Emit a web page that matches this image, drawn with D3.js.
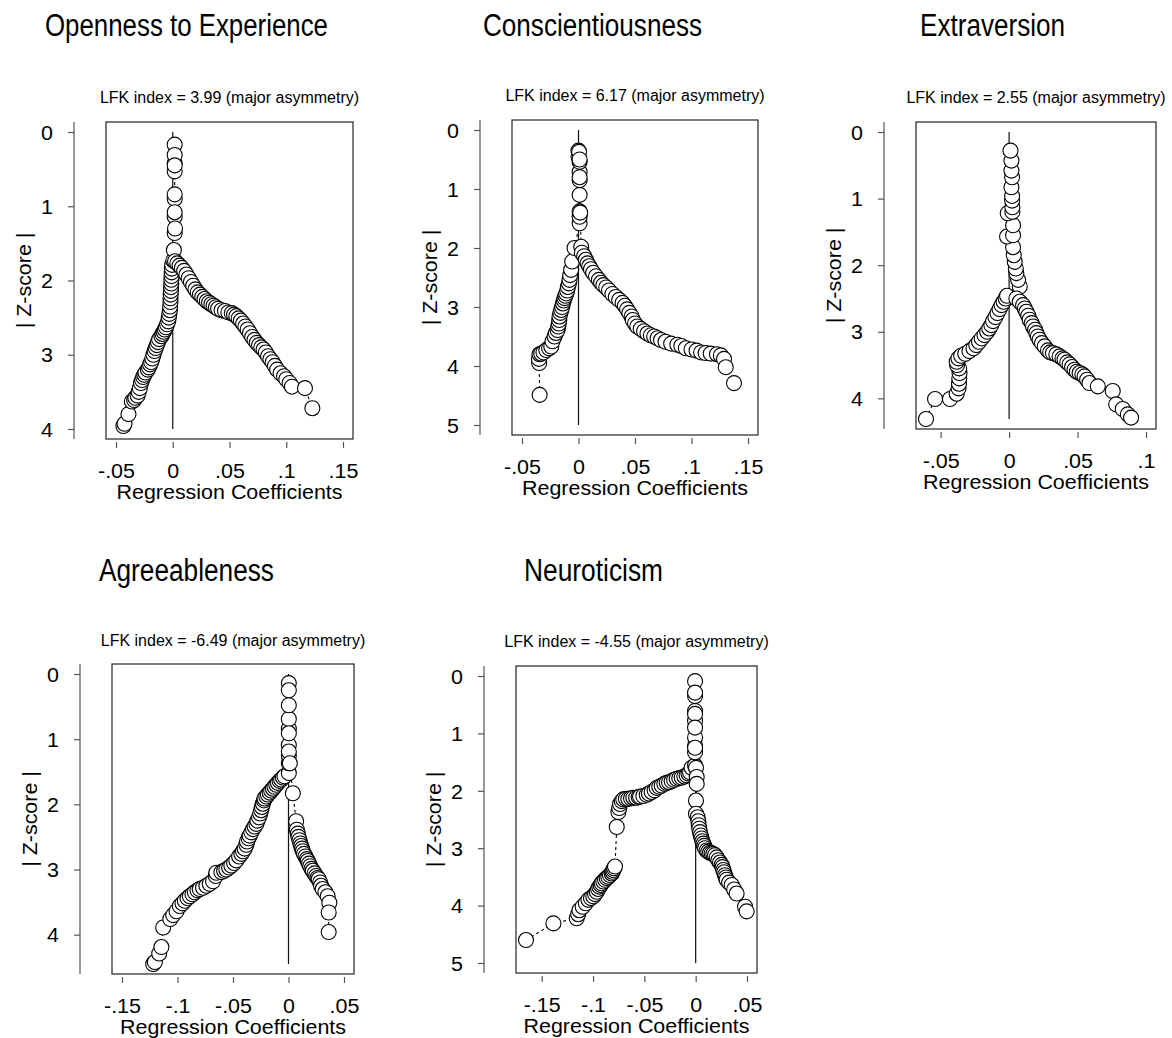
<!DOCTYPE html>
<html>
<head>
<meta charset="utf-8">
<script src="https://cdnjs.cloudflare.com/ajax/libs/d3/7.8.5/d3.min.js"></script>
<style>
body { margin: 0; background: #fff; }
svg text { font-family: "Liberation Sans", Arial, Helvetica, sans-serif; fill: #000; }
</style>
</head>
<body>
<div id="chart-area"></div>
<script>
// Doi plots, one per trait: [regression coefficient, |Z-score|], in path order
var titles = ["Openness to Experience", "Conscientiousness", "Extraversion", "Agreeableness", "Neuroticism"];
var lfkIndex = [3.99, 6.17, 2.55, -6.49, -4.55];
var lfkNote = "major asymmetry";

var xTickValues = [
    [-0.05, 0, 0.05, 0.1, 0.15],
    [-0.05, 0, 0.05, 0.1, 0.15],
    [-0.05, 0, 0.05, 0.1],
    [-0.15, -0.1, -0.05, 0, 0.05],
    [-0.15, -0.1, -0.05, 0, 0.05]
];
var yTickValues = [
    [0, 1, 2, 3, 4],
    [0, 1, 2, 3, 4, 5],
    [0, 1, 2, 3, 4],
    [0, 1, 2, 3, 4],
    [0, 1, 2, 3, 4, 5]
];

var opennessPts = [
    [-0.0435,3.96],[-0.0425,3.93],[-0.039,3.8],[-0.036,3.63],[-0.034,3.61],[-0.033,3.58],[-0.031,3.55],[-0.030,3.5],
    [-0.029,3.45],[-0.028,3.38],[-0.027,3.34],[-0.026,3.3],[-0.025,3.27],[-0.024,3.24],[-0.022,3.2],[-0.021,3.17],
    [-0.020,3.13],[-0.019,3.1],[-0.018,3.05],[-0.017,3.0],[-0.016,2.95],[-0.015,2.91],[-0.014,2.87],[-0.013,2.83],
    [-0.012,2.79],[-0.010,2.75],[-0.009,2.72],[-0.008,2.69],[-0.007,2.66],[-0.006,2.63],[-0.005,2.59],[-0.004,2.55],
    [-0.0035,2.5],[-0.003,2.45],[-0.0025,2.4],[-0.0023,2.35],[-0.002,2.29],[-0.002,2.24],[-0.0018,2.19],[-0.0016,2.14],
    [-0.0015,2.09],[-0.0013,2.04],[-0.0012,1.99],[-0.001,1.94],[-0.001,1.89],[-0.0008,1.84],[-0.0005,1.79],[0.0005,1.73],
    [0.001,1.59],[0.0017,1.36],[0.0017,1.14],[0.0017,0.9],[0.0017,0.53],[0.0017,0.42],[0.0017,0.17],[0.0017,0.31],
    [0.0017,0.45],[0.0017,0.84],[0.0017,1.08],[0.002,1.3],
    [0.002,1.74],[0.004,1.77],[0.006,1.8],[0.008,1.83],[0.010,1.87],[0.012,1.92],[0.014,1.97],[0.016,2.02],
    [0.018,2.07],[0.020,2.12],[0.022,2.16],[0.024,2.19],[0.026,2.22],[0.028,2.25],[0.030,2.28],[0.032,2.3],
    [0.034,2.32],[0.036,2.34],[0.038,2.36],[0.040,2.38],[0.043,2.4],[0.046,2.41],[0.049,2.43],[0.052,2.44],
    [0.054,2.46],[0.056,2.48],[0.058,2.51],[0.060,2.54],[0.062,2.58],[0.064,2.62],[0.066,2.66],[0.068,2.71],
    [0.070,2.76],[0.072,2.8],[0.074,2.84],[0.076,2.87],[0.078,2.9],[0.080,2.93],[0.082,2.97],[0.084,3.02],
    [0.086,3.06],[0.088,3.1],[0.090,3.15],[0.092,3.2],[0.095,3.25],[0.098,3.29],[0.100,3.33],[0.103,3.38],
    [0.105,3.43],[0.1165,3.45],[0.123,3.72]
];

var conscientiousnessPts = [
    [-0.0344,4.49],[-0.0348,3.95],[-0.035,3.88],[-0.0345,3.8],[-0.033,3.79],[-0.031,3.77],[-0.0285,3.73],[-0.026,3.7],
    [-0.0241,3.67],[-0.023,3.58],[-0.0212,3.5],[-0.020,3.44],[-0.0185,3.39],[-0.018,3.33],[-0.0174,3.28],[-0.017,3.22],
    [-0.0168,3.16],[-0.016,3.1],[-0.0153,3.05],[-0.0145,3.0],[-0.0138,2.94],[-0.013,2.89],[-0.0124,2.85],[-0.0116,2.81],
    [-0.0109,2.77],[-0.010,2.72],[-0.0094,2.66],[-0.0085,2.6],[-0.0079,2.54],[-0.0074,2.46],[-0.0065,2.37],[-0.0056,2.23],
    [-0.0035,2.0],
    [0.001,1.58],[0.001,1.47],[0.001,1.38],[0.001,1.1],[0.001,0.85],[0.001,0.71],[0.001,0.54],[0.0,0.45],
    [0.0,0.35],[0.0005,0.37],[0.001,0.5],[0.001,0.8],[0.0015,1.4],[0.0024,1.98],
    [0.003,2.08],[0.005,2.14],[0.0065,2.2],[0.008,2.26],[0.0095,2.31],[0.011,2.36],[0.013,2.42],[0.0155,2.48],
    [0.018,2.54],[0.020,2.59],[0.022,2.63],[0.0245,2.67],[0.027,2.72],[0.030,2.78],[0.033,2.83],[0.036,2.88],
    [0.039,2.93],[0.041,2.98],[0.043,3.04],[0.045,3.1],[0.047,3.16],[0.048,3.22],[0.050,3.28],[0.052,3.33],
    [0.055,3.37],[0.058,3.41],[0.061,3.45],[0.064,3.48],[0.067,3.5],[0.070,3.53],[0.073,3.56],[0.077,3.59],
    [0.082,3.62],[0.0875,3.64],[0.091,3.66],[0.095,3.7],[0.100,3.72],[0.1045,3.74],[0.1085,3.77],[0.1125,3.78],
    [0.117,3.79],[0.1225,3.8],[0.126,3.82],[0.1288,3.88],[0.1303,4.02],[0.1376,4.29]
];

var extraversionPts = [
    [-0.0607,4.31],[-0.0541,4.01],[-0.0432,4.01],[-0.0383,3.93],[-0.0369,3.85],[-0.0366,3.78],[-0.0364,3.7],[-0.0362,3.62],
    [-0.0365,3.55],[-0.038,3.5],[-0.0383,3.45],[-0.037,3.4],[-0.035,3.36],[-0.032,3.33],[-0.029,3.29],[-0.026,3.25],
    [-0.024,3.2],[-0.022,3.15],[-0.020,3.1],[-0.018,3.05],[-0.016,3.0],[-0.0145,2.95],[-0.013,2.9],[-0.0117,2.84],
    [-0.010,2.78],[-0.0085,2.72],[-0.007,2.66],[-0.0055,2.6],[-0.004,2.55],[-0.0025,2.5],[-0.0015,2.46],
    [0.0078,2.32],[0.0066,2.22],[0.0053,2.12],[0.0049,2.05],[0.0041,1.95],[0.0034,1.85],[0.0029,1.73],[-0.0015,1.57],
    [0.0029,1.55],[0.0029,1.4],[-0.001,1.22],[0.0024,1.2],[0.0024,1.13],[0.0022,1.03],[0.0022,0.96],[0.0017,0.83],
    [0.0022,0.68],[0.0017,0.58],[0.0017,0.43],[0.001,0.28],
    [0.0053,2.5],[0.0078,2.55],[0.0102,2.6],[0.0115,2.65],[0.0126,2.7],[0.014,2.76],[0.015,2.82],[0.0165,2.87],
    [0.0175,2.92],[0.019,2.97],[0.0199,3.02],[0.021,3.07],[0.0223,3.12],[0.024,3.17],[0.026,3.22],[0.0284,3.28],
    [0.030,3.31],[0.032,3.32],[0.0345,3.34],[0.0369,3.37],[0.039,3.4],[0.0405,3.42],[0.0425,3.46],[0.0442,3.49],
    [0.046,3.53],[0.0478,3.57],[0.0495,3.6],[0.0515,3.62],[0.0535,3.64],[0.0551,3.67],[0.057,3.72],[0.0587,3.77],
    [0.0648,3.82],[0.0757,3.89],[0.0782,4.09],[0.083,4.16],[0.0867,4.24],[0.0891,4.29]
];

var agreeablenessPts = [
    [-0.1219,4.45],[-0.1204,4.42],[-0.1165,4.29],[-0.1145,4.19],[-0.1129,3.89],[-0.1065,3.76],[-0.1039,3.7],[-0.1009,3.64],
    [-0.0979,3.56],[-0.0955,3.52],[-0.0934,3.48],[-0.091,3.44],[-0.0889,3.41],[-0.0865,3.38],[-0.0844,3.35],[-0.082,3.32],
    [-0.080,3.3],[-0.077,3.28],[-0.074,3.25],[-0.071,3.22],[-0.068,3.18],[-0.0655,3.1],[-0.065,3.05],[-0.0605,3.04],
    [-0.058,3.02],[-0.056,3.0],[-0.0535,2.97],[-0.0515,2.94],[-0.049,2.9],[-0.047,2.86],[-0.0445,2.8],[-0.0425,2.76],
    [-0.041,2.72],[-0.0395,2.68],[-0.038,2.62],[-0.0374,2.57],[-0.036,2.52],[-0.035,2.48],[-0.0335,2.43],[-0.032,2.38],
    [-0.0305,2.34],[-0.029,2.3],[-0.028,2.25],[-0.0266,2.2],[-0.0255,2.14],[-0.0246,2.09],[-0.024,2.04],[-0.0231,1.99],
    [-0.0222,1.94],[-0.0216,1.91],[-0.020,1.88],[-0.0186,1.85],[-0.017,1.82],[-0.0156,1.79],[-0.014,1.76],[-0.0126,1.73],
    [-0.011,1.7],[-0.0096,1.67],[-0.008,1.64],[-0.0066,1.62],[-0.005,1.59],[-0.0036,1.57],
    [0.0003,1.52],[0.0003,1.37],[0.0003,1.25],[0.0003,1.09],[0.0003,0.84],[0.0003,0.69],[0.0003,0.48],[0.0003,0.14],
    [0.0003,0.25],[0.0003,0.91],[0.0003,1.19],[0.0012,1.37],[0.0039,1.83],
    [0.0069,2.26],[0.0075,2.39],[0.0084,2.45],[0.009,2.5],[0.0099,2.55],[0.0107,2.6],[0.0114,2.64],[0.0122,2.68],
    [0.0129,2.72],[0.014,2.76],[0.0153,2.8],[0.0165,2.84],[0.0174,2.87],[0.0185,2.91],[0.0195,2.95],[0.0207,2.99],
    [0.0219,3.02],[0.0235,3.06],[0.0249,3.1],[0.0262,3.13],[0.0272,3.15],[0.0285,3.2],[0.0293,3.25],[0.0308,3.3],
    [0.0332,3.35],[0.0353,3.41],[0.0368,3.51],[0.0362,3.66],[0.0362,3.96]
];

var neuroticismPts = [
    [-0.1653,4.6],[-0.1386,4.31],[-0.1159,4.22],[-0.1145,4.15],[-0.1133,4.08],[-0.1101,4.02],[-0.107,3.96],[-0.1045,3.9],
    [-0.102,3.87],[-0.0997,3.84],[-0.098,3.8],[-0.0964,3.76],[-0.095,3.71],[-0.0938,3.67],[-0.0925,3.64],[-0.0916,3.61],
    [-0.090,3.58],[-0.0883,3.55],[-0.0867,3.52],[-0.0851,3.5],[-0.0835,3.47],[-0.0818,3.44],[-0.081,3.41],[-0.0802,3.38],
    [-0.0795,3.35],[-0.0786,3.32],[-0.0769,2.63],[-0.0753,2.37],[-0.0745,2.3],[-0.0737,2.23],[-0.072,2.18],[-0.0705,2.15],
    [-0.068,2.14],[-0.0656,2.14],[-0.063,2.13],[-0.0607,2.12],[-0.058,2.12],[-0.0555,2.11],[-0.0542,2.1],[-0.051,2.09],
    [-0.0477,2.07],[-0.0455,2.05],[-0.0429,2.02],[-0.040,1.99],[-0.038,1.95],[-0.0355,1.93],[-0.0331,1.91],[-0.0305,1.88],
    [-0.0282,1.86],[-0.026,1.85],[-0.0234,1.83],[-0.021,1.81],[-0.0185,1.79],[-0.016,1.78],[-0.0136,1.77],[-0.011,1.75],
    [-0.0088,1.73],[-0.007,1.7],[-0.0055,1.68],[-0.004,1.6],
    [-0.0006,1.56],[-0.0006,1.33],[-0.0006,1.21],[-0.0006,1.07],[-0.0006,0.78],[-0.0006,0.61],[-0.0006,0.35],[-0.0006,0.09],
    [-0.0006,0.29],[-0.0006,0.66],[-0.0006,0.9],[-0.0006,1.25],[0.0003,1.6],[0.001,1.76],[0.001,1.88],[0.0003,2.17],
    [0.0003,2.4],[0.0019,2.46],[0.0026,2.53],[0.003,2.6],[0.0035,2.66],[0.0042,2.72],[0.005,2.78],[0.0058,2.83],
    [0.0066,2.88],[0.0075,2.92],[0.0083,2.96],[0.0091,3.0],[0.0107,3.04],[0.0123,3.06],[0.014,3.08],[0.0156,3.09],
    [0.0172,3.1],[0.0188,3.12],[0.0205,3.16],[0.0221,3.21],[0.0237,3.25],[0.0253,3.29],[0.0261,3.33],[0.0269,3.38],
    [0.0277,3.42],[0.0286,3.47],[0.0294,3.51],[0.0302,3.55],[0.0326,3.6],[0.0351,3.64],[0.0375,3.72],[0.0399,3.79],
    [0.0481,4.02],[0.0497,4.1]
];

var series = [opennessPts, conscientiousnessPts, extraversionPts, agreeablenessPts, neuroticismPts];

// layout of each panel (plot box + title)
var panels = [
    { l:106, t:122, r:353, b:439, titleX:45,  titleY:36,  titleW:283, lfkY:103 },
    { l:512, t:120, r:758, b:435, titleX:483, titleY:36,  titleW:219, lfkY:101 },
    { l:916, t:122, r:1156, b:429, titleX:920, titleY:36, titleW:145, lfkY:103 },
    { l:112, t:664, r:354, b:974, titleX:99,  titleY:581, titleW:175, lfkY:646 },
    { l:516, t:666, r:757, b:973, titleX:524, titleY:581, titleW:139, lfkY:647 }
];

var pad = 10;
var stretch = 1.1;    // axis text runs a bit wide in the original
var axisFont = "19.5px";

var svg = d3.select("#chart-area")
    .append("svg")
        .attr("width", 1172)
        .attr("height", 1038);

function tickFmt(d) {
    if (d === 0) return "0";
    return (d < 0 ? "-" : "") + String(Math.abs(d)).replace(/^0/, "");
}

panels.forEach(function(p, i) {
    var pts = series[i];
    var g = svg.append("g");
    var cx = (p.l + p.r) / 2;

    var xMin = Math.min(d3.min(xTickValues[i]), d3.min(pts, function(d){ return d[0]; }));
    var xMax = Math.max(d3.max(xTickValues[i]), d3.max(pts, function(d){ return d[0]; }));
    var zMax = Math.max(d3.max(yTickValues[i]), d3.max(pts, function(d){ return d[1]; }));

    var x = d3.scaleLinear()
        .domain([xMin, xMax])
        .range([p.l + pad, p.r - pad]);
    var y = d3.scaleLinear()
        .domain([0, zMax])
        .range([p.t + pad, p.b - pad]);

    // Title
    g.append("text")
        .attr("x", p.titleX)
        .attr("y", p.titleY)
        .attr("font-size", "31px")
        .attr("textLength", p.titleW)
        .attr("lengthAdjust", "spacingAndGlyphs")
        .text(titles[i]);

    // LFK note
    g.append("text")
        .attr("x", cx)
        .attr("y", p.lfkY)
        .attr("text-anchor", "middle")
        .attr("font-size", "16px")
        .text("LFK index = " + lfkIndex[i].toFixed(2) + " (" + lfkNote + ")");

    // Plot box
    g.append("rect")
        .attr("x", p.l)
        .attr("y", p.t)
        .attr("width", p.r - p.l)
        .attr("height", p.b - p.t)
        .attr("fill", "none")
        .attr("stroke", "#222")
        .attr("stroke-width", 1.2);

    // Y axis, set off to the left of the box
    var axisX = p.l - 32;
    var yAxisGroup = g.append("g")
        .attr("transform", "translate(" + axisX + ",0)")
        .call(d3.axisLeft(y).tickValues(yTickValues[i]).tickSize(6).tickFormat(d3.format("d")));
    yAxisGroup.select(".domain").remove();
    yAxisGroup.attr("font-size", axisFont);
    yAxisGroup.selectAll(".tick line").attr("stroke", "#555").attr("stroke-width", 1.2);
    yAxisGroup.selectAll(".tick text")
        .attr("x", -21 / stretch)
        .attr("dy", "0.37em")
        .attr("transform", "scale(" + stretch + ",1)");
    yAxisGroup.append("line")
        .attr("y1", p.t)
        .attr("y2", p.b)
        .attr("stroke", "#555")
        .attr("stroke-width", 1.2);

    // Y label
    g.append("text")
        .attr("transform", "translate(" + (axisX - 43) + "," + ((p.t + p.b) / 2) + ") rotate(-90) scale(" + stretch + ",1)")
        .attr("text-anchor", "middle")
        .attr("font-size", axisFont)
        .text("| Z-score |");

    // X axis under the box
    var xAxisGroup = g.append("g")
        .attr("transform", "translate(0," + (p.b + 3) + ")")
        .call(d3.axisBottom(x).tickValues(xTickValues[i]).tickSize(6).tickFormat(tickFmt));
    xAxisGroup.select(".domain").remove();
    xAxisGroup.attr("font-size", axisFont);
    xAxisGroup.selectAll(".tick line").attr("stroke", "#555").attr("stroke-width", 1.2);
    xAxisGroup.selectAll(".tick text")
        .attr("y", 36)
        .attr("dy", 0)
        .attr("transform", "scale(" + stretch + ",1)");

    // X label
    g.append("text")
        .attr("transform", "translate(" + cx + "," + (p.b + 60) + ") scale(" + stretch + ",1)")
        .attr("text-anchor", "middle")
        .attr("font-size", axisFont)
        .text("Regression Coefficients");

    // Line of no effect
    g.append("line")
        .attr("x1", x(0))
        .attr("x2", x(0))
        .attr("y1", y(0))
        .attr("y2", y(zMax))
        .attr("stroke", "#111")
        .attr("stroke-width", 1.2);

    // Dashed connecting line
    var line = d3.line()
        .x(function(d){ return x(d[0]); })
        .y(function(d){ return y(d[1]); });
    g.append("path")
        .datum(pts)
        .attr("d", line)
        .attr("fill", "none")
        .attr("stroke", "#000")
        .attr("stroke-width", 1.1)
        .attr("stroke-dasharray", "3,3");

    // Points
    g.selectAll("circle")
        .data(pts)
        .enter()
        .append("circle")
            .attr("cx", function(d){ return x(d[0]); })
            .attr("cy", function(d){ return y(d[1]); })
            .attr("r", 7.5)
            .attr("fill", "#fff")
            .attr("stroke", "#000")
            .attr("stroke-width", 1.1);
});
</script>
</body>
</html>
